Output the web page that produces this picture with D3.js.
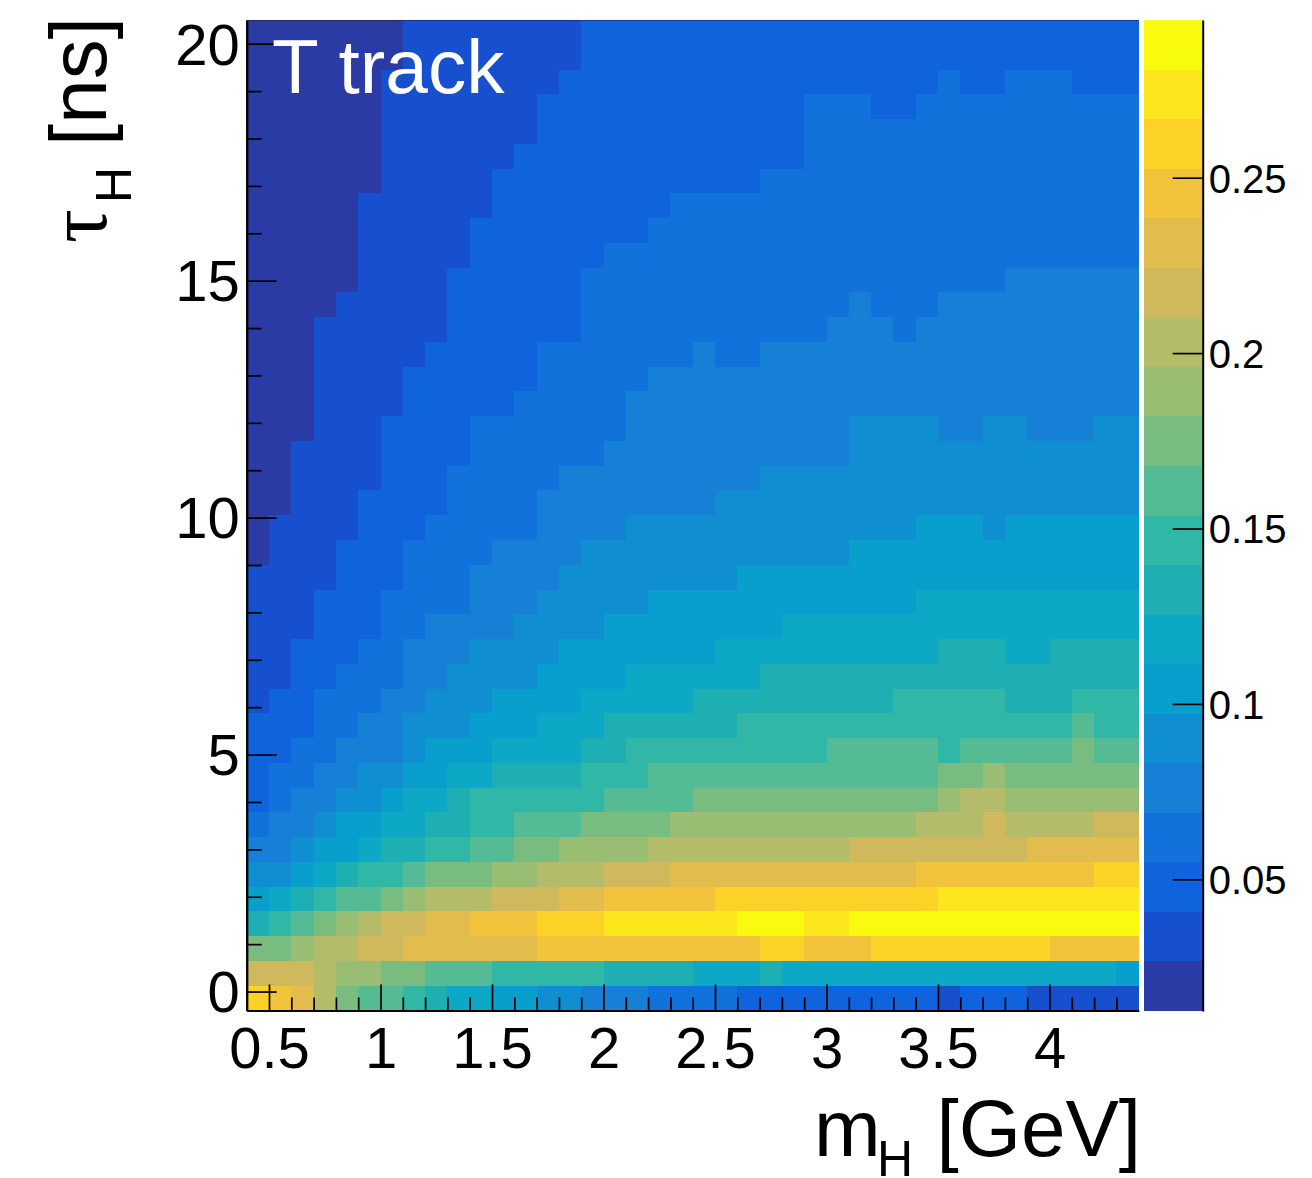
<!DOCTYPE html>
<html>
<head>
<meta charset="utf-8">
<script src="https://cdn.jsdelivr.net/npm/d3@7"></script>
<style>
  body { margin: 0; background: #fff; }
  text { font-family: "Liberation Sans", Arial, sans-serif; fill: #000; }
</style>
</head>
<body>
<svg id="chart" width="1312" height="1178"></svg>
<script>
// contour colours, lowest level first
const palette = ['#2A3BA5', '#1650CE', '#0F64DE', '#1272DB', '#1580D6', '#0F8FD2', '#089FCD', '#0DA8C6',
  '#1EAFB3', '#30B7A5', '#54BB95', '#78BC80', '#9ABD74', '#B5BC69', '#CFB95C', '#E2BC4D',
  '#F4C33C', '#FDD227', '#FCE61E', '#F9FB0E'];

const xTicks = [0.5, 1, 1.5, 2, 2.5, 3, 3.5, 4];
const yTicks = [0, 5, 10, 15, 20];
const zTicks = [0.05, 0.1, 0.15, 0.2, 0.25];

const massRange = [0.4, 4.4];
const lifetimeRange = [-0.4, 20.5];
const zRange = [0.01246, 0.29495];

// contour level of every cell, bottom row first, 40 bins of mH per row
const binsByRow = [
  [17,16,15,13,11,10,10,9,8,7,7,6,6,5,5,4,4,4,3,3,3,3,2,2,2,2,2,2,2,2,2,1,2,2,2,1,1,1,1,1],
  [14,14,14,13,12,12,11,11,10,10,10,9,9,9,9,9,8,8,8,8,7,7,7,8,7,7,7,7,7,7,7,7,7,7,7,7,7,7,7,6],
  [11,11,12,13,13,14,14,15,15,15,15,15,15,16,16,16,16,16,16,16,16,16,16,17,17,16,16,16,17,17,17,17,17,17,17,17,16,16,16,16],
  [8,9,10,11,12,13,14,14,15,15,16,16,16,17,17,17,18,18,18,18,18,18,19,19,19,18,18,19,19,19,19,19,19,19,19,19,19,19,19,19],
  [6,7,8,9,10,10,11,12,13,13,13,14,14,14,15,15,16,16,16,16,16,17,17,17,17,17,17,17,17,17,17,18,18,18,18,18,18,18,18,18],
  [5,5,6,7,8,9,9,10,11,11,11,12,12,13,13,13,14,14,14,15,15,15,15,15,15,15,15,15,15,15,16,16,16,16,16,16,16,16,17,17],
  [4,4,5,6,6,7,8,8,9,9,10,10,11,11,12,12,12,12,13,13,13,13,13,13,13,13,13,14,14,14,14,14,14,14,14,15,15,15,15,15],
  [3,4,4,5,6,6,7,7,8,8,9,9,10,10,10,11,11,11,11,12,12,12,12,12,12,12,12,12,12,12,13,13,13,14,13,13,13,13,14,14],
  [2,3,4,4,5,5,6,7,7,8,9,9,9,9,9,9,10,10,10,10,11,11,11,11,11,11,11,11,11,11,11,12,13,13,12,12,12,12,12,12],
  [2,3,3,4,4,5,5,6,6,7,7,8,8,8,8,9,9,9,10,10,10,10,10,10,10,10,10,10,10,10,10,11,11,12,11,11,11,11,11,11],
  [2,2,3,3,4,4,4,5,6,6,6,7,7,7,7,8,8,9,9,9,9,9,9,9,9,9,10,10,10,10,10,9,10,10,10,10,10,11,10,10],
  [2,2,2,3,3,4,4,5,5,5,6,6,6,7,7,7,8,8,8,8,8,8,9,9,9,9,9,9,9,9,9,9,9,9,9,9,9,10,9,9],
  [1,2,2,3,3,3,4,4,5,5,5,6,6,6,6,7,7,7,7,7,8,8,8,8,8,8,8,8,8,9,9,9,9,9,8,8,8,9,9,9],
  [1,1,2,2,3,3,3,4,4,5,5,5,5,6,6,6,6,7,7,7,7,7,7,8,8,8,8,8,8,8,8,8,8,8,8,8,8,8,8,8],
  [1,1,2,2,2,3,3,4,4,4,5,5,5,5,6,6,6,6,6,6,6,7,7,7,7,7,7,7,7,7,7,8,8,8,7,7,8,8,8,8],
  [1,1,1,2,2,2,3,3,4,4,4,4,5,5,5,5,6,6,6,6,6,6,6,6,7,7,7,7,7,7,7,7,7,7,7,7,7,7,7,7],
  [1,1,1,2,2,2,3,3,3,3,4,4,4,5,5,5,5,5,6,6,6,6,6,6,6,6,6,6,6,6,7,7,7,7,7,7,7,7,7,7],
  [1,1,1,1,2,2,2,3,3,3,4,4,4,4,5,5,5,5,5,5,5,5,6,6,6,6,6,6,6,6,6,6,6,6,6,6,6,6,6,6],
  [0,1,1,1,2,2,2,3,3,3,3,4,4,4,4,5,5,5,5,5,5,5,5,5,5,5,5,6,6,6,6,6,6,6,6,6,6,6,6,6],
  [0,1,1,1,1,2,2,2,3,3,3,3,3,4,4,4,4,5,5,5,5,5,5,5,5,5,5,5,5,5,6,6,6,5,6,6,6,6,6,6],
  [0,0,1,1,1,2,2,2,2,3,3,3,3,4,4,4,4,4,4,4,4,5,5,5,5,5,5,5,5,5,5,5,5,5,5,5,5,5,5,5],
  [0,0,1,1,1,1,2,2,2,3,3,3,3,3,4,4,4,4,4,4,4,4,4,5,5,5,5,5,5,5,5,5,5,5,5,5,5,5,5,5],
  [0,0,1,1,1,1,2,2,2,2,3,3,3,3,3,3,4,4,4,4,4,4,4,4,4,4,4,5,5,5,5,5,5,5,5,5,5,5,5,5],
  [0,0,0,1,1,1,2,2,2,2,3,3,3,3,3,3,3,4,4,4,4,4,4,4,4,4,4,5,5,5,5,4,4,5,5,4,4,4,5,5],
  [0,0,0,1,1,1,1,2,2,2,2,2,3,3,3,3,3,4,4,4,4,4,4,4,4,4,4,4,4,4,4,4,4,4,4,4,4,4,4,4],
  [0,0,0,1,1,1,1,2,2,2,2,2,2,3,3,3,3,3,4,4,4,4,4,4,4,4,4,4,4,4,4,4,4,4,4,4,4,4,4,4],
  [0,0,0,1,1,1,1,1,2,2,2,2,2,3,3,3,3,3,3,3,4,3,3,4,4,4,4,4,4,4,4,4,4,4,4,4,4,4,4,4],
  [0,0,0,1,1,1,1,1,1,2,2,2,2,2,2,3,3,3,3,3,3,3,3,3,3,3,4,4,4,3,4,4,4,4,4,4,4,4,4,4],
  [0,0,0,0,1,1,1,1,1,2,2,2,2,2,2,3,3,3,3,3,3,3,3,3,3,3,3,4,3,3,3,4,4,4,4,4,4,4,4,4],
  [0,0,0,0,0,1,1,1,1,2,2,2,2,2,2,3,3,3,3,3,3,3,3,3,3,3,3,3,3,3,3,3,3,3,4,4,4,4,4,4],
  [0,0,0,0,0,1,1,1,1,1,2,2,2,2,2,2,3,3,3,3,3,3,3,3,3,3,3,3,3,3,3,3,3,3,3,3,3,3,3,3],
  [0,0,0,0,0,1,1,1,1,1,2,2,2,2,2,2,2,2,3,3,3,3,3,3,3,3,3,3,3,3,3,3,3,3,3,3,3,3,3,3],
  [0,0,0,0,0,1,1,1,1,1,1,2,2,2,2,2,2,2,2,3,3,3,3,3,3,3,3,3,3,3,3,3,3,3,3,3,3,3,3,3],
  [0,0,0,0,0,0,1,1,1,1,1,2,2,2,2,2,2,2,2,2,2,2,2,3,3,3,3,3,3,3,3,3,3,3,3,3,3,3,3,3],
  [0,0,0,0,0,0,1,1,1,1,1,1,2,2,2,2,2,2,2,2,2,2,2,2,2,3,3,3,3,3,3,3,3,3,3,3,3,3,3,3],
  [0,0,0,0,0,0,1,1,1,1,1,1,1,2,2,2,2,2,2,2,2,2,2,2,2,3,3,3,3,3,3,3,3,3,3,3,3,3,3,3],
  [0,0,0,0,0,0,1,1,1,1,1,1,1,2,2,2,2,2,2,2,2,2,2,2,2,3,3,3,2,2,3,3,3,3,3,3,3,3,3,3],
  [0,0,0,0,0,0,1,1,1,1,1,1,1,1,2,2,2,2,2,2,2,2,2,2,2,2,2,2,2,2,2,3,2,2,3,3,3,2,2,2],
  [0,0,0,0,0,0,0,1,1,1,1,1,1,1,1,2,2,2,2,2,2,2,2,2,2,2,2,2,2,2,2,2,2,2,2,2,2,2,2,2],
  [0,0,0,0,0,0,0,1,1,1,1,1,1,1,1,2,2,2,2,2,2,2,2,2,2,2,2,2,2,2,2,2,2,2,2,2,2,2,2,2]
];

const svg = d3.select('#chart');

const x = d3.scaleLinear().domain(massRange).range([246.7, 1138.7]);
const y = d3.scaleLinear().domain(lifetimeRange).range([1010.5, 20]);
const z = d3.scaleLinear().domain(zRange).range([1011, 20]);

const nx = binsByRow[0].length, ny = binsByRow.length;
const xEdge = i => massRange[0] + i * (massRange[1] - massRange[0]) / nx;
const yEdge = j => lifetimeRange[0] + j * (lifetimeRange[1] - lifetimeRange[0]) / ny;
const zEdge = k => zRange[0] + k * (zRange[1] - zRange[0]) / palette.length;

// heat map
svg.append('g')
  .attr('shape-rendering', 'crispEdges')
  .selectAll('g')
  .data(binsByRow)
  .enter().append('g')
  .each(function (row, j) {
    d3.select(this).selectAll('rect')
      .data(row)
      .enter().append('rect')
      .attr('x', (d, i) => x(xEdge(i)))
      .attr('width', (d, i) => x(xEdge(i + 1)) - x(xEdge(i)))
      .attr('y', y(yEdge(j + 1)))
      .attr('height', y(yEdge(j)) - y(yEdge(j + 1)))
      .attr('fill', d => palette[d]);
  });

// colour bar
svg.append('g')
  .attr('shape-rendering', 'crispEdges')
  .selectAll('rect')
  .data(palette)
  .enter().append('rect')
  .attr('x', 1144)
  .attr('width', 58.7)
  .attr('y', (d, k) => z(zEdge(k + 1)))
  .attr('height', (d, k) => z(zEdge(k)) - z(zEdge(k + 1)))
  .attr('fill', d => d);

function styleAxis(sel, size) {
  sel.selectAll('path').attr('stroke', '#000').attr('stroke-width', 2);
  sel.selectAll('line').attr('stroke', '#000').attr('stroke-width', 1.7);
  sel.selectAll('text').attr('font-size', size).attr('font-family', null);
}

// x axis, ticks point into the frame
const xMinor = d3.range(5, 44).map(d => d / 10).filter(d => !xTicks.includes(d));
svg.append('g')
  .attr('transform', 'translate(0,1010.5)')
  .call(d3.axisBottom(x).tickValues(xMinor).tickSize(-13).tickSizeOuter(0).tickFormat(''))
  .call(styleAxis, 58);
svg.append('g')
  .attr('transform', 'translate(0,1010.5)')
  .call(d3.axisBottom(x).tickValues(xTicks).tickSize(-26).tickSizeOuter(0).tickPadding(16).tickFormat(d3.format('~g')))
  .call(styleAxis, 58);

// y axis
const yMinor = d3.range(0, 21).filter(d => !yTicks.includes(d));
svg.append('g')
  .attr('transform', 'translate(246.7,0)')
  .call(d3.axisLeft(y).tickValues(yMinor).tickSize(-15).tickSizeOuter(0).tickFormat(''))
  .call(styleAxis, 58);
svg.append('g')
  .attr('transform', 'translate(246.7,0)')
  .call(d3.axisLeft(y).tickValues(yTicks).tickSize(-30).tickSizeOuter(0).tickPadding(7))
  .call(styleAxis, 58)
  .selectAll('text').attr('dy', '0.35em');

// colour bar axis
svg.append('g')
  .attr('transform', 'translate(1202.7,0)')
  .call(d3.axisRight(z).tickValues(zTicks).tickSize(-30).tickSizeOuter(0).tickPadding(6).tickFormat(d3.format('~g')))
  .call(styleAxis, 40)
  .selectAll('text').attr('dy', '0.36em');

// thin top edge of the frame
svg.append('line')
  .attr('x1', x(massRange[0])).attr('x2', x(massRange[1]))
  .attr('y1', 20.5).attr('y2', 20.5)
  .attr('stroke', '#000').attr('stroke-opacity', 0.3);

// sample label
svg.append('text')
  .attr('x', 272).attr('y', 93)
  .attr('font-size', 76.5)
  .style('fill', '#fff')
  .text('T track');

// x title
svg.append('text').attr('x', 814).attr('y', 1156).attr('font-size', 80).text('m');
svg.append('text').attr('x', 877).attr('y', 1176).attr('font-size', 50).text('H');
svg.append('text').attr('x', 1141).attr('y', 1156).attr('font-size', 80).attr('text-anchor', 'end').text('[GeV]');

// y title, rotated
svg.append('text').attr('transform', 'translate(106,243) rotate(-90)').attr('font-size', 84)
  .style('font-family', '"Liberation Serif", serif').text('τ');
svg.append('text').attr('transform', 'translate(131,203) rotate(-90)').attr('font-size', 50).text('H');
svg.append('text').attr('transform', 'translate(106,17) rotate(-90)').attr('font-size', 80).attr('text-anchor', 'end').text('[ns]');
</script>
</body>
</html>
